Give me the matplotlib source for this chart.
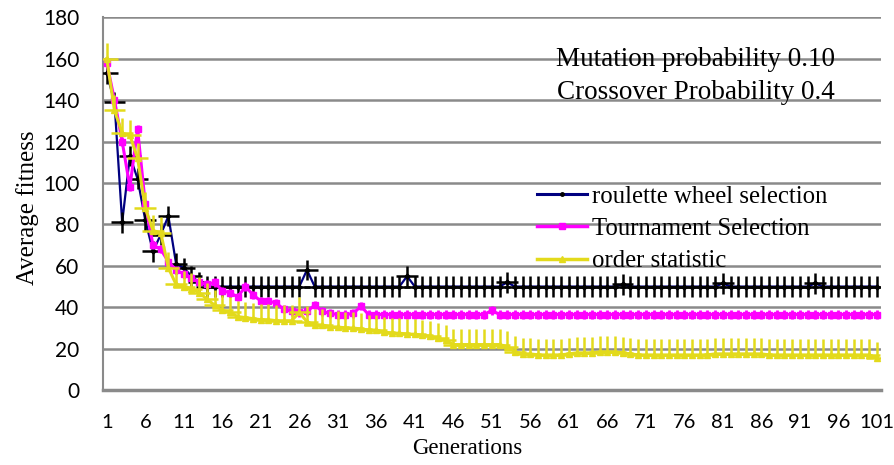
import numpy as np
import matplotlib.pyplot as plt

generations = list(range(1, 102))

roulette = [153, 139, 81, 113, 102, 82, 67, 75, 84, 61, 59, 55, 52, 50, 50,
            50, 50, 50, 50, 50, 50, 50, 50, 50, 50, 50, 58, 50, 50, 50,
            50, 50, 50, 50, 50, 50, 50, 50, 50, 55, 50, 50, 50, 50, 50,
            50, 50, 50, 50, 50, 50, 50, 52, 50, 50, 50, 50, 50, 50, 50,
            50, 50, 50, 50, 50, 50, 50, 51, 50, 50, 50, 50, 50, 50, 50,
            50, 50, 50, 50, 50, 51.5, 50, 50, 50, 50, 50, 50, 50, 50, 50,
            50, 50, 51.5, 50, 50, 50, 50, 50, 50, 50, 50]

tournament = [158, 140, 120, 98, 126, 90, 70, 68, 62, 58, 56, 54, 52, 51, 52,
              48, 47, 45, 50, 46, 43, 43, 42, 39, 38, 37.5, 38, 41, 38, 37,
              36.5, 36.5, 37, 40.5, 36.5, 36.5, 36.5, 36.5, 36.5, 36.5, 36.5, 36.5, 36.5, 36.5, 36.5,
              36.5, 36.5, 36.5, 36.5, 36.5, 38.5, 36.5, 36.5, 36.5, 36.5, 36.5, 36.5, 36.5, 36.5, 36.5,
              36.5, 36.5, 36.5, 36.5, 36.5, 36.5, 36.5, 36.5, 36.5, 36.5, 36.5, 36.5, 36.5, 36.5, 36.5,
              36.5, 36.5, 36.5, 36.5, 36.5, 36.5, 36.5, 36.5, 36.5, 36.5, 36.5, 36.5, 36.5, 36.5, 36.5,
              36.5, 36.5, 36.5, 36.5, 36.5, 36.5, 36.5, 36.5, 36.5, 36.5, 36.5]

order_stat = [160, 135, 124, 123, 112, 88, 77, 76, 59, 51, 50, 49, 47, 44, 41,
              38.5, 37.5, 35.5, 35, 34.5, 34, 34, 33.5, 33.5, 33.5, 37.5, 33, 31.5, 31.5, 30.5,
              30.5, 30, 30, 29.5, 29, 29, 28, 27.5, 27.5, 27, 27, 26.5, 26, 25, 24,
              22, 22, 22, 22, 22, 22, 22, 21, 18.5, 17.5, 17.5, 17, 17, 17, 17,
              17.5, 18, 18, 18, 18.5, 18.5, 18.5, 18, 17.5, 17, 17, 17, 17, 17, 17,
              17, 17, 17, 17, 17.5, 17.5, 17.5, 17.5, 17.5, 17.5, 17.5, 17, 17, 17, 17,
              17, 17, 17, 17, 17, 17, 17, 17, 17, 17, 15.5]

roulette_err = 5
tournament_err = 2
order_err_up = 7.5
x_err = 1.4

labels = ["roulette wheel selection", "Tournament Selection", "order statistic"]
colors = ["#000080", "#FF00FF", "#E3DA1B"]

x_ticks = list(range(1, 102, 5))

fig = plt.figure(figsize=(8.95, 4.65), dpi=100)
ax = fig.add_axes([0.115, 0.161, 0.869, 0.802])

serif = "Liberation Serif"

# roulette
ax.plot(generations, roulette, color=colors[0], lw=1.6, marker="D", ms=2.5,
        mfc="black", mec="black", zorder=2)
ax.errorbar(generations, roulette, yerr=roulette_err, xerr=x_err, fmt="none",
            ecolor="black", elinewidth=1.8, capsize=0, zorder=3)

# tournament
ax.plot(generations, tournament, color=colors[1], lw=2.2, marker="s", ms=5,
        zorder=4)
ax.errorbar(generations, tournament, yerr=tournament_err, fmt="none",
            ecolor=colors[1], elinewidth=2, capsize=0, zorder=4)

# order statistic
ax.plot(generations, order_stat, color=colors[2], lw=2.2, marker="^", ms=4,
        zorder=5)
ax.errorbar(generations, order_stat,
            yerr=[np.zeros(len(order_stat)), np.full(len(order_stat), order_err_up)],
            xerr=x_err, fmt="none", ecolor=colors[2], elinewidth=1.8, capsize=0,
            zorder=5)

ax.set_xlim(0.5, 101.5)
ax.set_ylim(0, 180)
ax.set_yticks(range(0, 181, 20))
ax.set_xticks(x_ticks)
ax.set_xticklabels([str(t) for t in x_ticks], fontsize=14.5, family="Lato")
ax.tick_params(axis="y", labelsize=15, length=0, pad=17)
ax.tick_params(axis="x", length=0, pad=17)
for lab in ax.get_yticklabels():
    lab.set_family("Lato")

ax.grid(axis="y", color="#8a8a8a", lw=1.8, zorder=0)
ax.set_axisbelow(True)
for s in ["top", "right"]:
    ax.spines[s].set_visible(False)
ax.spines["left"].set_color("#8a8a8a")
ax.spines["left"].set_linewidth(1.5)
ax.spines["bottom"].set_color("#8a8a8a")
ax.spines["bottom"].set_linewidth(2.5)

ax.set_xlabel("Generations", family=serif, fontsize=16.5)
ax.set_ylabel("Average fitness", family=serif, fontsize=18)
ax.xaxis.set_label_coords(0.468, -0.128)
ax.yaxis.set_label_coords(-0.082, 0.49)

# legend handles (lines only, like the original)
h1, = ax.plot([], [], color=colors[0], lw=2.2, marker="o", ms=2.5, mfc="black", mec="black")
h2, = ax.plot([], [], color=colors[1], lw=2.5, marker="s", ms=4)
h3, = ax.plot([], [], color=colors[2], lw=2.5, marker="^", ms=5)
leg = ax.legend([h1, h2, h3], labels, loc="upper left", bbox_to_anchor=(0.546, 0.575),
                frameon=False, prop={"family": serif, "size": 17.8},
                handlelength=2.0, handletextpad=0.2, labelspacing=0.4,
                borderaxespad=0)

fig.text(0.777, 0.871, "Mutation probability 0.10", family=serif, fontsize=19.5,
         ha="center", va="center")
fig.text(0.777, 0.802, "Crossover Probability 0.4", family=serif, fontsize=19.5,
         ha="center", va="center")

plt.savefig("out.png", dpi=100)
